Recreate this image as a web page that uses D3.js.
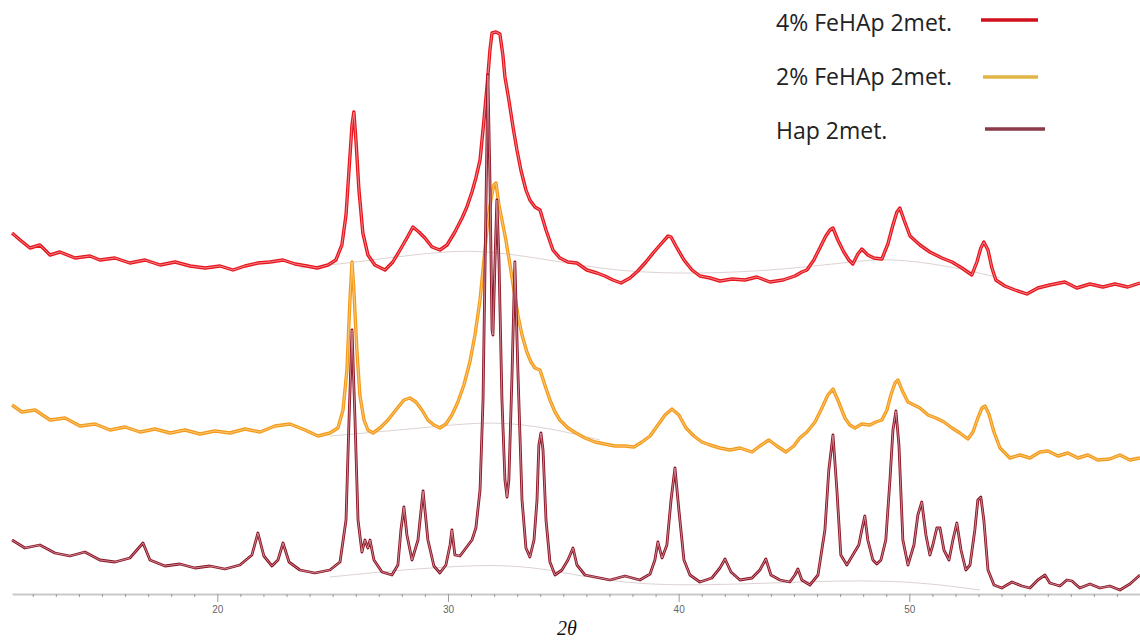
<!DOCTYPE html>
<meta charset="utf-8">
<style>
  body { margin: 0; background: #fff; }
  .axis .domain { stroke: #c9c9c9; stroke-width: 2; }
  .axis line { stroke: #9a9a9a; }
  .axis text { fill: #666; font: 10px "Liberation Sans", sans-serif; }
  .legend text { font: 23px "Open Sans", sans-serif; fill: #222; }
  .xlabel { font: italic 20px "Liberation Serif", serif; fill: #111; }
</style>
<svg width="1140" height="642"></svg>
<script src="https://cdn.jsdelivr.net/npm/d3@7"></script>
<script>
// series names + colours
var seriesNames = ["4% FeHAp 2met.", "2% FeHAp 2met.", "Hap 2met."];
var traceColors = ["#e8141c", "#f39a1c", "#8c1424"];
var centerColors = ["#f4a0a4", "#ffd48a", "#d9a2ac"];
var traceWidths = [3.4, 3.4, 2.8];
var legendColors = ["#d0101c", "#e2b445", "#8a3a4a"];

var majorTicks = [20, 30, 40, 50];

// 2theta (deg), intensity (a.u., stacked offset)
var fe4Data = [
  [11.10,367],[11.45,360],[11.88,352],[12.31,355],[12.75,345],[13.18,348],[13.83,342],[14.48,344],
  [14.91,340],[15.56,342],[16.21,337],[16.87,340],[17.52,335],[18.17,338],[18.82,334],[19.47,332],
  [20.12,334],[20.68,330],[21.20,334],[21.76,337],[22.28,338],[22.85,340],[23.37,336],[23.89,334],
  [24.32,332],[24.80,335],[25.14,340],[25.40,355],[25.58,385],[25.71,430],[25.84,475],[25.92,488],
  [26.01,460],[26.14,410],[26.31,367],[26.53,345],[26.83,335],[27.27,330],[27.61,338],[27.92,350],
  [28.22,362],[28.48,373],[28.74,368],[29.00,362],[29.31,353],[29.65,350],[29.96,355],[30.30,368],
  [30.61,382],[30.82,393],[31.04,408],[31.21,422],[31.39,440],[31.56,480],[31.69,513],[31.82,550],
  [31.91,567],[32.08,568],[32.25,566],[32.38,545],[32.47,523],[32.64,500],[32.82,473],[32.99,450],
  [33.16,430],[33.38,410],[33.55,400],[33.77,393],[33.99,390],[34.25,370],[34.55,350],[34.85,342],
  [35.20,338],[35.59,337],[36.02,330],[36.46,327],[36.80,324],[37.15,320],[37.50,317],[37.89,322],
  [38.23,329],[38.58,338],[38.93,348],[39.27,357],[39.54,364],[39.67,363],[39.88,354],[40.23,340],
  [40.58,330],[40.92,324],[41.36,322],[41.79,319],[42.31,321],[42.87,320],[43.39,323],[43.96,318],
  [44.52,320],[45.04,324],[45.34,328],[45.56,330],[45.86,340],[46.12,352],[46.38,364],[46.56,370],
  [46.69,372],[46.90,360],[47.16,348],[47.38,340],[47.55,336],[47.77,346],[47.94,351],[48.20,345],
  [48.46,342],[48.81,341],[49.07,356],[49.29,375],[49.46,388],[49.59,392],[49.77,380],[50.03,364],
  [50.46,355],[50.89,348],[51.41,342],[51.85,338],[52.28,332],[52.71,325],[52.93,338],[53.10,352],
  [53.23,358],[53.41,350],[53.58,332],[53.75,320],[54.14,314],[54.58,310],[55.10,306],[55.57,312],
  [56.09,315],[56.74,318],[57.26,312],[57.83,316],[58.39,313],[58.91,316],[59.47,313],[60.00,317]
];

var fe2Data = [
  [11.10,195],[11.53,188],[12.10,190],[12.75,180],[13.40,182],[14.05,174],[14.70,176],[15.35,170],
  [16.00,173],[16.65,168],[17.30,171],[17.95,167],[18.60,170],[19.25,166],[19.90,169],[20.55,167],
  [21.20,171],[21.85,168],[22.50,174],[23.15,176],[23.80,170],[24.36,164],[24.88,167],[25.23,172],
  [25.45,190],[25.62,230],[25.75,300],[25.84,338],[25.92,310],[26.05,250],[26.18,205],[26.36,180],
  [26.53,170],[26.75,167],[27.05,172],[27.40,180],[27.74,190],[28.09,200],[28.35,202],[28.61,198],
  [28.87,190],[29.13,180],[29.39,175],[29.65,172],[29.91,176],[30.17,185],[30.43,198],[30.69,215],
  [30.95,238],[31.17,265],[31.39,300],[31.56,340],[31.73,380],[31.86,400],[31.99,415],[32.08,417],
  [32.21,395],[32.34,380],[32.51,360],[32.69,335],[32.86,310],[33.03,285],[33.21,265],[33.42,248],
  [33.60,238],[33.77,232],[33.99,230],[34.20,215],[34.42,200],[34.64,188],[34.85,180],[35.20,172],
  [35.55,167],[35.94,162],[36.37,158],[36.80,156],[37.24,154],[37.67,154],[38.06,153],[38.41,158],
  [38.76,164],[39.10,175],[39.41,185],[39.71,191],[40.01,185],[40.32,172],[40.66,164],[41.01,158],
  [41.36,155],[41.79,152],[42.22,150],[42.66,152],[43.18,148],[43.52,154],[43.91,160],[44.26,154],
  [44.65,148],[44.99,154],[45.25,162],[45.56,168],[45.91,178],[46.21,192],[46.47,205],[46.69,211],
  [46.90,200],[47.21,182],[47.42,175],[47.64,172],[47.94,176],[48.29,175],[48.55,178],[48.81,180],
  [49.03,190],[49.20,205],[49.38,217],[49.51,220],[49.68,210],[49.94,198],[50.20,195],[50.46,192],
  [50.81,185],[51.15,182],[51.50,178],[51.85,172],[52.19,167],[52.54,161],[52.76,168],[52.97,182],
  [53.15,192],[53.28,194],[53.45,186],[53.67,168],[53.93,152],[54.36,142],[54.79,145],[55.23,142],
  [55.66,148],[56.01,149],[56.44,144],[56.87,147],[57.31,142],[57.74,145],[58.17,140],[58.69,141],
  [59.13,145],[59.56,140],[60.00,142]
];

var hapData = [
  [11.10,60],[11.66,52],[12.31,55],[12.96,47],[13.61,44],[14.26,48],[14.91,40],[15.56,38],
  [16.21,42],[16.78,57],[17.08,40],[17.73,34],[18.38,36],[19.03,32],[19.68,34],[20.33,31],
  [20.98,35],[21.50,45],[21.76,67],[22.02,44],[22.37,34],[22.63,40],[22.85,57],[23.11,38],
  [23.58,30],[24.23,27],[24.88,30],[25.32,38],[25.58,80],[25.71,180],[25.84,270],[25.97,180],
  [26.10,80],[26.27,48],[26.40,60],[26.53,52],[26.62,60],[26.79,40],[27.14,28],[27.57,25],
  [27.83,35],[27.96,70],[28.09,93],[28.22,65],[28.44,40],[28.70,60],[28.92,109],[29.13,60],
  [29.39,34],[29.65,27],[29.91,35],[30.09,55],[30.17,70],[30.30,45],[30.52,44],[30.78,52],
  [31.04,60],[31.21,72],[31.39,110],[31.52,200],[31.65,400],[31.73,525],[31.82,420],[31.91,270],
  [31.95,265],[32.04,340],[32.12,400],[32.21,340],[32.34,200],[32.47,120],[32.56,103],[32.64,120],
  [32.77,220],[32.90,338],[33.03,230],[33.21,100],[33.38,52],[33.55,43],[33.73,60],[33.86,100],
  [33.94,155],[34.03,167],[34.12,150],[34.25,80],[34.42,38],[34.64,25],[34.94,30],[35.20,40],
  [35.42,52],[35.59,35],[35.94,25],[36.37,23],[37.02,20],[37.67,24],[38.32,20],[38.76,26],
  [38.97,40],[39.10,58],[39.28,42],[39.49,55],[39.67,100],[39.84,132],[40.01,90],[40.23,40],
  [40.49,25],[40.92,18],[41.44,22],[41.79,32],[42.01,41],[42.27,28],[42.66,20],[43.18,22],
  [43.52,30],[43.78,41],[44.00,25],[44.39,20],[44.82,18],[45.04,25],[45.17,31],[45.34,20],
  [45.69,15],[46.04,25],[46.34,70],[46.51,130],[46.69,165],[46.86,110],[47.03,45],[47.29,35],
  [47.55,45],[47.81,55],[47.94,70],[48.07,84],[48.20,60],[48.42,40],[48.59,36],[48.77,40],
  [48.98,60],[49.16,120],[49.29,170],[49.42,189],[49.55,155],[49.72,60],[49.94,35],[50.20,55],
  [50.37,85],[50.54,98],[50.72,65],[50.89,45],[51.02,55],[51.19,72],[51.33,72],[51.50,50],
  [51.72,40],[51.89,60],[52.06,77],[52.24,50],[52.45,30],[52.63,35],[52.84,70],[52.97,100],
  [53.10,103],[53.23,80],[53.41,30],[53.67,15],[54.01,12],[54.45,18],[54.88,14],[55.23,12],
  [55.57,20],[55.88,25],[56.09,17],[56.53,14],[56.83,20],[57.05,19],[57.39,12],[57.83,16],
  [58.26,12],[58.69,14],[59.13,10],[59.56,16],[60.00,25]
];

// faint fitted backgrounds
var fe4Background = [[23.58,332],[25.75,337],[29.35,348],[31.52,350],[34.42,340],[37.45,328],
  [40.92,326],[44.39,330],[47.42,338],[49.16,342],[51.76,334],[53.93,322]];
var fe2Background = [[24.88,164],[27.92,170],[30.52,176],[32.25,178],[34.42,172],[36.59,160]];
var hapBackground = [[24.88,23],[27.92,30],[30.52,34],[32.25,35],[33.99,32],[35.94,23],
  [38.76,14],[43.09,16],[47.42,20],[50.46,18],[53.06,10]];

var svg = d3.select("svg");

var x = d3.scaleLinear().domain([11.1, 60]).range([12, 1140]);
var y = d3.scaleLinear().domain([0, 600]).range([600, 0]);

var line = d3.line()
    .x(function(d) { return x(d[0]); })
    .y(function(d) { return y(d[1]); });

var axisY = 594;

// x axis: minor ticks every degree, labelled decades
var minorTicks = d3.range(12, 61).filter(function(t) { return majorTicks.indexOf(t) < 0; });
svg.append("g")
    .attr("class", "axis")
    .attr("transform", "translate(0," + axisY + ")")
    .call(d3.axisBottom(x).tickValues(minorTicks).tickSize(3).tickSizeOuter(0).tickFormat(""));
svg.append("g")
    .attr("class", "axis")
    .attr("transform", "translate(0," + axisY + ")")
    .call(d3.axisBottom(x).tickValues(majorTicks).tickSize(8).tickSizeOuter(0).tickPadding(4))
    .select(".domain").remove();

// backgrounds
[fe4Background, fe2Background, hapBackground].forEach(function(bg) {
  svg.append("path")
      .datum(bg)
      .attr("fill", "none")
      .attr("stroke", "#ddd2d2")
      .attr("stroke-width", 1)
      .attr("d", line.curve(d3.curveBasis));
});
line.curve(d3.curveLinear);

var traces = [fe4Data, fe2Data, hapData];
traces.forEach(function(tr, i) {
  svg.append("path")
      .datum(tr)
      .attr("fill", "none")
      .attr("stroke", traceColors[i])
      .attr("stroke-width", traceWidths[i])
      .attr("stroke-linejoin", "round")
      .attr("d", line);
  svg.append("path")
      .datum(tr)
      .attr("fill", "none")
      .attr("stroke", centerColors[i])
      .attr("stroke-width", 0.8)
      .attr("d", line);
});

// legend
var legendY = [31, 85, 139];
var legendLineY = [20, 77, 129];
var legendLineX = [[981, 1038], [983, 1038], [985, 1045]];
var legend = svg.append("g").attr("class", "legend");
seriesNames.forEach(function(name, i) {
  legend.append("text")
      .attr("x", 776)
      .attr("y", legendY[i])
      .text(name);
  legend.append("line")
      .attr("x1", legendLineX[i][0])
      .attr("x2", legendLineX[i][1])
      .attr("y1", legendLineY[i])
      .attr("y2", legendLineY[i])
      .attr("stroke", legendColors[i])
      .attr("stroke-width", 3.5);
});

svg.append("text")
    .attr("class", "xlabel")
    .attr("x", 557)
    .attr("y", 635)
    .text("2θ");
</script>
